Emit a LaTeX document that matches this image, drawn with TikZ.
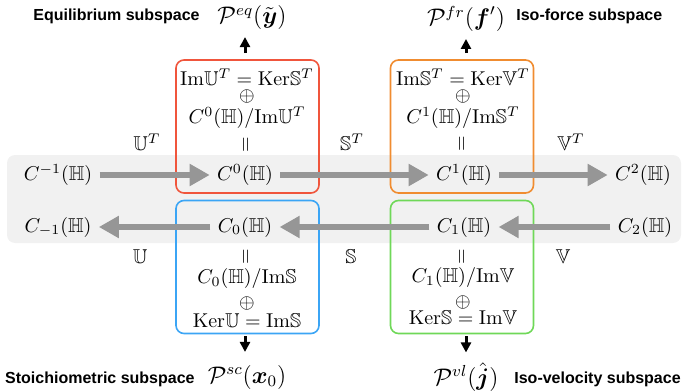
\documentclass[tikz,border=0pt]{standalone}
\usepackage{amsmath,amssymb}
\usepackage{fontspec}
\newfontfamily\labelfont{Liberation Sans}
\usepackage{tikz}
\usetikzlibrary{arrows.meta,positioning}
\definecolor{EqRed}{HTML}{F0553C}
\definecolor{FrOrange}{HTML}{F08C30}
\definecolor{ScBlue}{HTML}{3BA5F5}
\definecolor{VlGreen}{HTML}{6FD858}
\definecolor{BandGray}{HTML}{F1F1F1}
\definecolor{MapGray}{HTML}{969696}

\begin{document}
\begin{tikzpicture}[
  x=0.5pt, y=-0.5pt,
  band/.style={fill=BandGray, rounded corners=4pt, minimum width=337pt, minimum height=44pt, inner sep=0pt},
  subbox/.style={draw, line width=0.8pt, rounded corners=4pt, minimum width=71.5pt, minimum height=66.5pt, inner sep=0pt},
  space/.style={inner sep=3.5pt},
  part/.style={inner sep=0.5pt},
  map/.style={-{Triangle[length=10pt, width=10.5pt]}, line width=3.25pt, draw=MapGray},
  proj/.style={-{Triangle[length=5pt, width=5pt]}, line width=1.5pt, draw=black},
  tag/.style={inner sep=0pt, font=\labelfont\bfseries\fontsize{8}{9.6}\selectfont},
  proj label/.style={font=\large}
]
\useasboundingbox (0,0) rectangle (682,391);

% grey strip behind the two chains
\node[band] (band) at (344,199) {};

% coloured boxes
\node[subbox, draw=EqRed] (redbox) at (247.5,126.5) {};
\node[subbox, draw=FrOrange] (orangebox) at (462,126.5) {};
\node[subbox, draw=ScBlue] (bluebox) at (247.5,267) {};
\node[subbox, draw=VlGreen] (greenbox) at (462,267) {};

% cochain (top row)
\node[space] (cm1) at (58,175) {$C^{-1}(\mathbb{H})$};
\node[space] (c0) at (245,175) {$C^{0}(\mathbb{H})$};
\node[space] (c1) at (464,175) {$C^{1}(\mathbb{H})$};
\node[space] (c2) at (643,175) {$C^{2}(\mathbb{H})$};

% chain (bottom row)
\node[space] (dm1) at (58,227) {$C_{-1}(\mathbb{H})$};
\node[space] (d0) at (245,227) {$C_{0}(\mathbb{H})$};
\node[space] (d1) at (464,227) {$C_{1}(\mathbb{H})$};
\node[space] (d2) at (645,227) {$C_{2}(\mathbb{H})$};

% decompositions
\node[part] (eqa) at (247,77) {$\mathrm{Im}\mathbb{U}^T=\mathrm{Ker}\mathbb{S}^T$};
\node[part] (eqb) at (247,97) {$\oplus$};
\node[part] (eqc) at (247,118) {$C^{0}(\mathbb{H})/\mathrm{Im}\mathbb{U}^T$};
\node[part] (eqd) at (247,145) {\rotatebox{90}{$=$}};

\node[part] (fra) at (463,77) {$\mathrm{Im}\mathbb{S}^T=\mathrm{Ker}\mathbb{V}^T$};
\node[part] (frb) at (463,97) {$\oplus$};
\node[part] (frc) at (463,118) {$C^{1}(\mathbb{H})/\mathrm{Im}\mathbb{S}^T$};
\node[part] (frd) at (463,144) {\rotatebox{90}{$=$}};

\node[part] (sca) at (247,257) {\rotatebox{90}{$=$}};
\node[part] (scb) at (247,279) {$C_{0}(\mathbb{H})/\mathrm{Im}\mathbb{S}$};
\node[part] (scc) at (247,303) {$\oplus$};
\node[part] (scd) at (247,321) {$\mathrm{Ker}\mathbb{U}=\mathrm{Im}\mathbb{S}$};

\node[part] (vla) at (463,257) {\rotatebox{90}{$=$}};
\node[part] (vlb) at (463,278) {$C_{1}(\mathbb{H})/\mathrm{Im}\mathbb{V}$};
\node[part] (vlc) at (463,302) {$\oplus$};
\node[part] (vld) at (463,318) {$\mathrm{Ker}\mathbb{S}=\mathrm{Im}\mathbb{V}$};

% operator labels
\node (ut) at (147,142) {$\mathbb{U}^T$};
\node (st) at (352,142) {$\mathbb{S}^T$};
\node (vt) at (571,142) {$\mathbb{V}^T$};
\node (uu) at (140,257) {$\mathbb{U}$};
\node (ss) at (351,257) {$\mathbb{S}$};
\node (vv) at (563,257) {$\mathbb{V}$};

% subspaces
\node[proj label] (peq) at (252,18) {$\mathcal{P}^{eq}(\tilde{\boldsymbol{y}})$};
\node[proj label] (pfr) at (466,19) {$\mathcal{P}^{fr}(\boldsymbol{f}')$};
\node[proj label] (psc) at (247,377) {$\mathcal{P}^{sc}(\boldsymbol{x}_0)$};
\node[proj label] (pvl) at (466,377) {$\mathcal{P}^{vl}(\hat{\boldsymbol{j}})$};
\node[tag, anchor=east] (eqtag) at (200,16) {Equilibrium subspace};
\node[tag, anchor=west] (frtag) at (516,16) {Iso-force subspace};
\node[tag, anchor=east] (sctag) at (195,379) {Stoichiometric subspace};
\node[tag, anchor=west] (vltag) at (514,379) {Iso-velocity subspace};

\draw[map] (cm1) -- (c0);
\draw[map] (c0) -- (c1);
\draw[map] (c1) -- (c2);
\draw[map] (d0) -- (dm1);
\draw[map] (d1) -- (d0);
\draw[map] (d2) -- (d1);

\draw[proj, shorten <=3pt] (redbox.north -| c0) -- (peq.south -| c0);
\draw[proj, shorten <=3pt] (orangebox.north -| pfr) -- (pfr.south);
\draw[proj, shorten <=1pt, shorten >=3pt] (bluebox.south -| d0) -- (psc.north -| d0);
\draw[proj, shorten <=1pt, shorten >=1.5pt] (greenbox.south -| pvl) -- (pvl.north);
\end{tikzpicture}
\end{document}
